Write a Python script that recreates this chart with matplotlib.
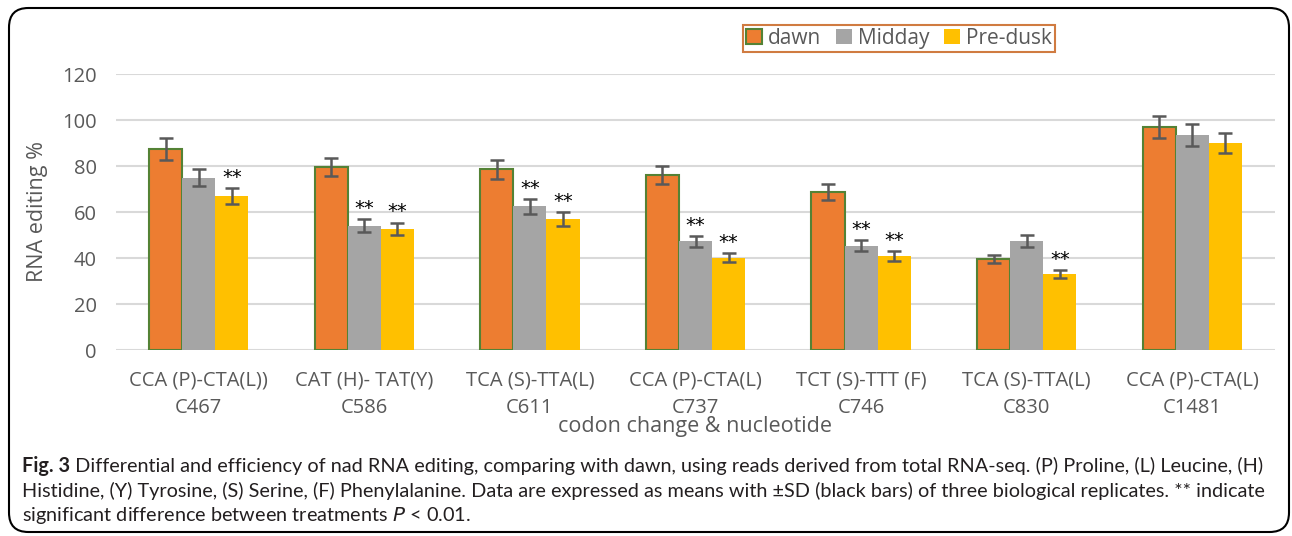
import numpy as np
import matplotlib
matplotlib.use("Agg")
import matplotlib.pyplot as plt
from matplotlib.patches import FancyBboxPatch, Patch

# Data
categories = ["CCA (P)-CTA(L))\nC467", "CAT (H)- TAT(Y)\nC586", "TCA (S)-TTA(L)\nC611",
              "CCA (P)-CTA(L)\nC737", "TCT (S)-TTT (F)\nC746", "TCA (S)-TTA(L)\nC830",
              "CCA (P)-CTA(L)\nC1481"]
dawn = [87.4, 79.6, 78.5, 76.0, 68.7, 39.5, 97.0]
dawn_sd = [4.6, 3.9, 4.0, 3.9, 3.5, 1.8, 4.8]
midday = [74.8, 54.0, 62.5, 47.2, 45.4, 47.4, 93.5]
midday_sd = [3.7, 2.8, 3.2, 2.4, 2.4, 2.4, 4.8]
predusk = [67.0, 52.6, 57.0, 40.2, 40.8, 33.2, 90.0]
predusk_sd = [3.5, 2.8, 3.0, 2.0, 2.2, 1.7, 4.4]
midday_sig = [False, True, True, True, True, False, False]
predusk_sig = [True, True, True, True, True, True, False]

series_names = ["dawn", "Midday", "Pre-dusk"]
colors = ["#ED7D31", "#A5A5A5", "#FFC000"]

caption_bold = "Fig. 3"
caption_lines = [
    " Differential and efficiency of nad RNA editing, comparing with dawn, using reads derived from total RNA-seq. (P) Proline, (L) Leucine, (H)",
    "Histidine, (Y) Tyrosine, (S) Serine, (F) Phenylalanine. Data are expressed as means with \u00b1SD (black bars) of three biological replicates. ** indicate",
    "significant difference between treatments $P$ < 0.01.",
]

W, H = 1292, 536
fig = plt.figure(figsize=(W / 100, H / 100), dpi=100)
font = ["Open Sans", "DejaVu Sans"]
plt.rcParams["font.family"] = font

# outer rounded frame
frame = FancyBboxPatch((9 / W, 4 / H), 1280 / W, 524 / H,
                       boxstyle="round,pad=0,rounding_size=0.015",
                       transform=fig.transFigure, fill=False, ec="black", lw=1.5,
                       mutation_aspect=W / H)
fig.patches.append(frame)

ax = fig.add_axes([116 / W, 1 - 350 / H, (1275 - 116) / W, (350 - 74) / H])
x = np.arange(len(categories))
bw = 0.2
err_kw = dict(ecolor="#595959", elinewidth=1.8, capsize=5, capthick=1.8)
ax.bar(x - bw, dawn, bw, yerr=dawn_sd, color=colors[0], edgecolor="#548235", lw=1.5,
       error_kw=err_kw, zorder=3)
ax.bar(x, midday, bw, yerr=midday_sd, color=colors[1], error_kw=err_kw, zorder=3)
ax.bar(x + bw, predusk, bw, yerr=predusk_sd, color=colors[2], error_kw=err_kw, zorder=3)

for i in range(len(categories)):
    if midday_sig[i]:
        ax.text(x[i], midday[i] + midday_sd[i] + 0.5, "**", ha="center", va="bottom",
                fontsize=14, family="DejaVu Sans", color="black")
    if predusk_sig[i]:
        ax.text(x[i] + bw, predusk[i] + predusk_sd[i] + 0.5, "**", ha="center", va="bottom",
                fontsize=14, family="DejaVu Sans", color="black")

ax.set_xlim(-0.5, len(categories) - 0.5)
ax.set_ylim(0, 120)
ax.set_yticks(np.arange(0, 121, 20))
ax.yaxis.grid(True, color="#D9D9D9", lw=1.5, zorder=0)
for s in ax.spines.values():
    s.set_visible(False)
ax.tick_params(length=0, labelsize=14.5, labelcolor="#595959", pad=14)
ax.tick_params(axis="x", pad=15)
ax.set_xticks(x)
ax.set_xticklabels(categories, fontsize=14.5, color="#595959", linespacing=1.45)
ax.set_ylabel("RNA editing %", fontsize=15.5, color="#595959", labelpad=10)
ax.set_xlabel("codon change & nucleotide", fontsize=15.5, color="#595959", labelpad=-1)

handles = [Patch(facecolor=colors[0], edgecolor="#548235", lw=1.5),
           Patch(facecolor=colors[1]), Patch(facecolor=colors[2])]
leg = fig.legend(handles, series_names, loc="center", bbox_to_anchor=(899 / W, 1 - 38.5 / H),
                 ncol=3, fontsize=15, frameon=True, fancybox=False, handlelength=0.75,
                 handleheight=0.75, handletextpad=0.3, columnspacing=0.7,
                 borderpad=0.15, labelcolor="#595959")
leg.get_frame().set_edgecolor("#C55A11")
leg.get_frame().set_linewidth(1.5)

# caption, sized so the first line spans the same width as the reference
cap_font = ["Lato", "DejaVu Sans"]
fig.canvas.draw()
r = fig.canvas.get_renderer()
ys = [466, 491, 516]
cap_size = 12.0
tb = fig.text(22 / W, 1 - ys[0] / H, caption_bold, fontsize=cap_size, fontweight="bold",
              family=cap_font, va="center", color="#231F20")
t1 = fig.text(0, 0, caption_lines[0], fontsize=cap_size, family=cap_font)
total = tb.get_window_extent(r).width + t1.get_window_extent(r).width
cap_size = cap_size * (1262 - 22) / total
t1.remove()
tb.set_fontsize(cap_size)
bb = tb.get_window_extent(r)
fig.text(bb.x1 / W, 1 - ys[0] / H, caption_lines[0], fontsize=cap_size, family=cap_font,
         va="center", color="#231F20")
for line, yy in zip(caption_lines[1:], ys[1:]):
    fig.text(22 / W, 1 - yy / H, line, fontsize=cap_size, family=cap_font, va="center",
             color="#231F20")

fig.savefig("out.png", dpi=100)
